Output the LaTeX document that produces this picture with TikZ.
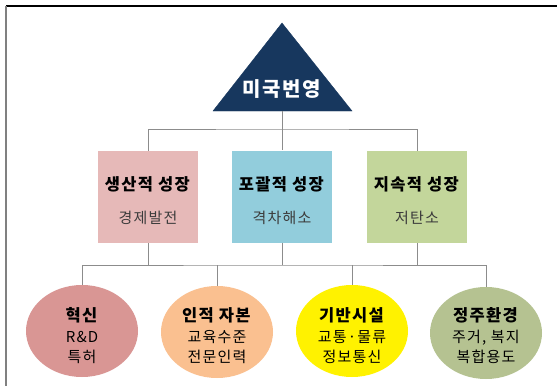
\documentclass[tikz,border=0pt]{standalone}
\usepackage{fontspec}
\setmainfont{Noto Sans CJK KR}[LetterSpace=8]
\usetikzlibrary{shapes.geometric}
\definecolor{navy}{RGB}{23,55,94}
\definecolor{pinkbox}{RGB}{230,185,184}
\definecolor{bluebox}{RGB}{146,205,220}
\definecolor{greenbox}{RGB}{195,214,155}
\definecolor{rose}{RGB}{217,150,148}
\definecolor{peach}{RGB}{250,192,144}
\definecolor{olive}{RGB}{181,194,145}
\definecolor{linegray}{RGB}{140,140,140}
\definecolor{subtext}{RGB}{60,60,60}
\newcommand{\headtxt}[1]{\textbf{\fontsize{16.5}{18}\selectfont #1}}
\tikzset{
  goalbox/.style={minimum width=100pt, minimum height=92pt, inner sep=0pt},
  goaltext/.style={align=center, font=\fontsize{15}{17}\selectfont},
  factor/.style={ellipse, minimum width=112pt, minimum height=92pt, inner sep=0pt},
  factortext/.style={align=center, font=\fontsize{15}{20}\selectfont},
  conn/.style={draw=linegray, line width=0.9pt}
}
\begin{document}
\begin{tikzpicture}[x=1pt, y=-1pt]
          \useasboundingbox (0,0) rectangle (557,386);
          \fill[white] (0,0) rectangle (557,386);
          \draw [line width=1.6pt, color=black] (6,6) -- (557,6);
          \draw [line width=1.6pt, color=gray] (6,6) -- (6,386);

          \filldraw[fill=navy, draw=navy] (282,23) -- (352,111) -- (213,111) -- cycle;
          \coordinate (top) at (282,111);
          \node[text=white, font=\fontsize{20}{22}\selectfont\bfseries] (prosper) at (282,89) {미국번영};

          \node[goalbox, fill=pinkbox] (prod) at (148,197) {};
          \node[goalbox, fill=bluebox] (incl) at (282,196.5) {};
          \node[goalbox, fill=greenbox] (sust) at (417,197) {};
          \node[goaltext] (prodtxt) at (148,201) {\headtxt{생산적 성장}\\[16pt] {\color{subtext}경제발전}};
          \node[goaltext] (incltxt) at (282,201) {\headtxt{포괄적 성장}\\[16pt] {\color{subtext}격차해소}};
          \node[goaltext] (susttxt) at (417,201) {\headtxt{지속적 성장}\\[16pt] {\color{subtext}저탄소}};

          \node[factor, fill=rose] (innov) at (82,331) {};
          \node[factor, fill=peach] (human) at (217,332) {};
          \node[factor, fill=yellow] (infra) at (352,331) {};
          \node[factor, fill=olive] (living) at (486,333) {};
          \node[factortext] (innovtxt) at (82,336) {\headtxt{혁신}\\[1pt] R\&D\\ 특허};
          \node[factortext] (humantxt) at (217,336) {\headtxt{인적 자본}\\[1pt] 교육수준\\ 전문인력};
          \node[factortext] (infratxt) at (352,336) {\headtxt{기반시설}\\[1pt] 교통·물류\\ 정보통신};
          \node[factortext] (livingtxt) at (486,336) {\headtxt{정주환경}\\[1pt] 주거, 복지\\ 복합용도};

          \coordinate (upper) at (282,129);
          \coordinate (lower) at (282,265);
          \draw[conn] (top) -- (upper);
          \draw[conn] (prod.north) |- (upper) -| (sust.north);
          \draw[conn] (upper) -- (incl.north);
          \draw[conn] (prod.south) -- (prod.south |- lower);
          \draw[conn] (incl.south) -- (incl.south |- lower);
          \draw[conn] (sust.south) -- (sust.south |- lower);
          \draw[conn] (innov.north) |- (lower) -| (living.north);
          \draw[conn] (human.north) -- (human.north |- lower);
          \draw[conn] (infra.north) -- (infra.north |- lower);
        \end{tikzpicture}
\end{document}
